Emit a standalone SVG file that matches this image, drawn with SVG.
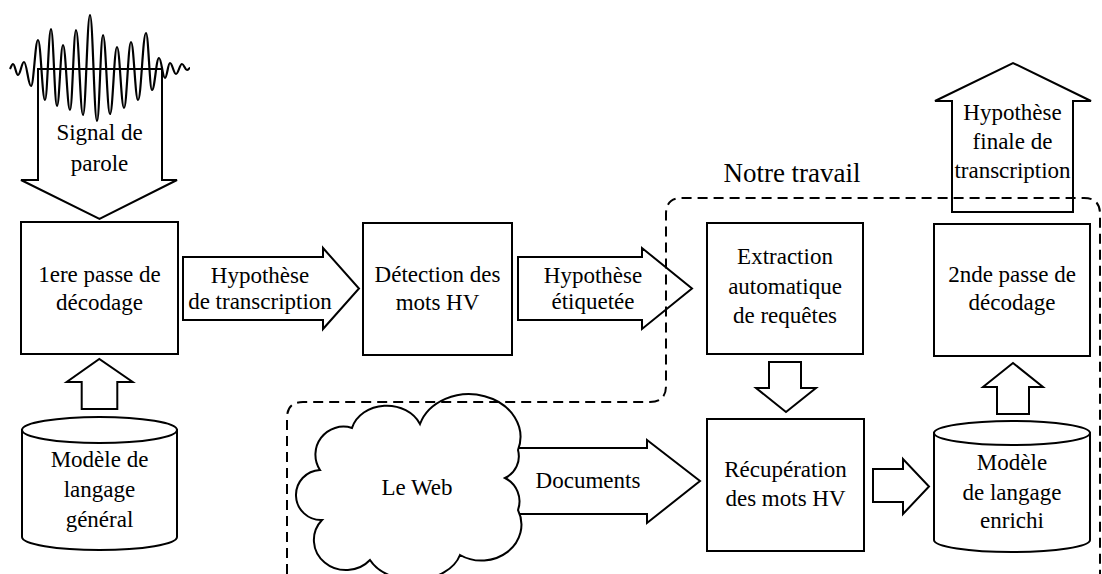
<svg xmlns="http://www.w3.org/2000/svg" width="1102" height="574" viewBox="0 0 1102 574" font-family="Liberation Serif, serif" font-size="23">
<style>
.box{fill:#fff;stroke:#000;stroke-width:2}
.arr{fill:#fff;stroke:#000;stroke-width:2;stroke-linejoin:miter}
.wave{fill:none;stroke:#000;stroke-width:2.2}
.dash{fill:none;stroke:#000;stroke-width:2;stroke-dasharray:10 6}
.t{fill:#000;text-anchor:middle;font-family:'Liberation Serif',serif;font-size:23px}
.big{font-size:27px}
</style>
<rect width="1102" height="574" fill="#fff"/>
<g id="connectors">
<g id="signal-arrow">
<path class="arr" d="M38,69 L162,69 L162,180 L177,180 L99.5,219 L21,180 L38,180 Z"/>
<path class="wave" d="M10,69 C11,67 12,64 13,64 C15,64 16,75 18,75 C20.4,75 21.6,62 24,62 C26.8,62 28.2,86 31,86 C33.8,86 35.2,40 38,40 C40.8,40 42.2,100 45,100 C47.4,100 48.6,29 51,29 C53.4,29 54.6,106 57,106 C59.4,106 60.6,45 63,45 C65.8,45 67.2,110 70,110 C72.4,110 73.6,30 76,30 C78.8,30 80.2,115 83,115 C85.8,115 87.2,15 90,15 C92.8,15 94.2,121 97,121 C99.4,121 100.6,35 103,35 C105.8,35 107.2,114 110,114 C112.8,114 114.2,47 117,47 C119.8,47 121.2,108 124,108 C126.8,108 128.2,42 131,42 C133.8,42 135.2,100 138,100 C141.2,100 142.8,33 146,33 C148.4,33 149.6,90 152,90 C154.8,90 156.2,58 159,58 C161.4,58 162.6,78 165,78 C167,78 168,63 170,63 C172.4,63 173.6,74 176,74 C178.4,74 179.6,64 182,64 C184,64 185,70 187,70 C188.5,70 189,68 190,68"/>
<text class="t" x="99.5" y="140">Signal de</text>
<text class="t" x="99.5" y="171">parole</text>
</g>
<path class="arr" d="M81.7,409 L81.7,382 L66.7,382 L99.3,359 L132.7,382 L117.3,382 L117.3,409 Z"/>
<g id="arrow-hyp">
<path class="arr" d="M183,257 L323,257 L323,248 L359,288.5 L323,329 L323,320 L183,320 Z"/>
<text class="t" x="260" y="283">Hypothèse</text>
<text class="t" x="260" y="309">de transcription</text>
</g>
<g id="arrow-etiq">
<path class="arr" d="M518,257 L642,257 L642,248 L692,288.5 L642,329 L642,320 L518,320 Z"/>
<text class="t" x="593" y="283">Hypothèse</text>
<text class="t" x="593" y="309">étiquetée</text>
</g>
<path class="arr" d="M769,362 L801,362 L801,388 L816,388 L786,412 L756,388 L769,388 Z"/>
<path class="arr" d="M997,414 L997,387 L983,387 L1013,363 L1043,387 L1029,387 L1029,414 Z"/>
<g id="arrow-final">
<path class="arr" d="M952,212 L952,101 L935,101 L1013,63 L1091,101 L1073,101 L1073,212 Z"/>
<text class="t" x="1012.5" y="120">Hypothèse</text>
<text class="t" x="1012.5" y="149">finale de</text>
<text class="t" x="1012.5" y="178">transcription</text>
</g>
<g id="arrow-docs">
<path class="arr" d="M505,448 L647,448 L647,440 L700,481 L647,523 L647,514 L505,514 Z"/>
<text class="t" x="588" y="488">Documents</text>
</g>
<path class="arr" d="M873,469 L903,469 L903,459 L929,486.5 L903,514 L903,502 L873,502 Z"/>
</g>
<g id="node-passe1">
<rect class="box" x="21" y="222" width="157" height="132"/>
<text class="t" x="99.5" y="282">1ere passe de</text>
<text class="t" x="99.5" y="310">décodage</text>
</g>
<g id="node-detection">
<rect class="box" x="363" y="223" width="149" height="132"/>
<text class="t" x="437.5" y="282">Détection des</text>
<text class="t" x="437.5" y="310">mots HV</text>
</g>
<g id="node-extraction">
<rect class="box" x="707" y="223" width="156" height="131"/>
<text class="t" x="785" y="264">Extraction</text>
<text class="t" x="785" y="294">automatique</text>
<text class="t" x="785" y="323">de requêtes</text>
</g>
<g id="node-passe2">
<rect class="box" x="934" y="224" width="156" height="132"/>
<text class="t" x="1012" y="282">2nde passe de</text>
<text class="t" x="1012" y="310">décodage</text>
</g>
<g id="node-recup">
<rect class="box" x="707" y="419" width="157" height="132"/>
<text class="t" x="785.5" y="477">Récupération</text>
<text class="t" x="785.5" y="506">des mots HV</text>
</g>
<g id="node-lm-general">
<path class="box" d="M22,430 L22,537 A77.5,13 0 0 0 177,537 L177,430 Z"/>
<ellipse class="box" cx="99.5" cy="430" rx="77.5" ry="13"/>
<text class="t" x="99.5" y="467">Modèle de</text>
<text class="t" x="99.5" y="497">langage</text>
<text class="t" x="99.5" y="527">général</text>
</g>
<g id="node-lm-enrichi">
<path class="box" d="M934,433 L934,540 A78,12 0 0 0 1090,540 L1090,433 Z"/>
<ellipse class="box" cx="1012" cy="433" rx="78" ry="12"/>
<text class="t" x="1012" y="470">Modèle</text>
<text class="t" x="1012" y="500">de langage</text>
<text class="t" x="1012" y="528">enrichi</text>
</g>
<g id="node-web">
<path class="box" d="M320,470 A28,28 0 0 1 352,428 A36,30 0 0 1 420,424 A36,30 0 0 1 518,450 A24,24 0 0 1 505,478 A26,26 0 0 1 518,510 A40,36 0 0 1 460,555 A48,34 0 0 1 370,560 A32,30 0 0 1 322,520 A24,24 0 0 1 320,470 Z"/>
<text class="t" x="417" y="495">Le Web</text>
</g>
<g id="region-notre-travail">
<path class="dash" d="M287,590 L287,418 Q287,402 303,402 L650,402 Q666,402 666,386 L666,214 Q666,198 682,198 L1084,198 Q1100,198 1100,214 L1100,600"/>
<text class="t big" x="792" y="182">Notre travail</text>
</g>
</svg>
